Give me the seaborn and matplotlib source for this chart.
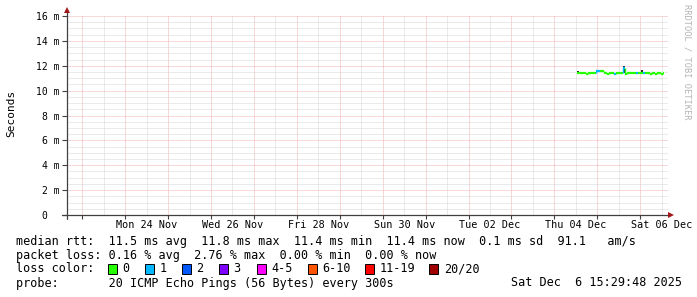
import matplotlib
matplotlib.use("Agg")
import matplotlib.pyplot as plt
import matplotlib.dates as mdates
from matplotlib.ticker import MultipleLocator, FuncFormatter
from matplotlib.patches import Rectangle
import seaborn as sns
import pandas as pd

sns.set_theme(style="white")
plt.rcParams['font.family'] = ['DejaVu Sans Mono', 'DejaVu Sans']

# ---------------- data ----------------
t_start = pd.Timestamp("2025-11-22 15:29:48")
t_end = pd.Timestamp("2025-12-06 15:29:48")
data_start = pd.Timestamp("2025-12-04 12:30")

median_ms = [11.45, 11.45, 11.45, 11.45, 11.45, 11.33, 11.45, 11.45, 11.45, 11.45,
             11.45, 11.55, 11.55, 11.55, 11.55, 11.45, 11.45, 11.35, 11.45, 11.45,
             11.45, 11.35, 11.45, 11.45, 11.45, 11.45, 11.80, 11.35, 11.45, 11.45,
             11.45, 11.45, 11.45, 11.45, 11.45, 11.45, 11.45, 11.45, 11.45, 11.45,
             11.45, 11.35, 11.45, 11.45, 11.35, 11.45, 11.45, 11.35, 11.45]
loss_cnt = [0, 0, 0, 0, 0, 0, 0, 0, 0, 0,
            0, 1, 1, 0, 0, 0, 0, 0, 0, 0,
            0, 1, 0, 0, 0, 0, 1, 0, 0, 0,
            0, 0, 0, 1, 0, 0, 0, 1, 0, 0,
            0, 0, 0, 0, 0, 0, 0, 0, 0]
smoke_lo = [11.40, 11.41, 11.41, 11.41, 11.41, 11.29, 11.41, 11.41, 11.41, 11.41,
            11.41, 11.51, 11.51, 11.51, 11.51, 11.41, 11.41, 11.31, 11.41, 11.41,
            11.41, 11.31, 11.41, 11.41, 11.41, 11.41, 11.40, 11.31, 11.41, 11.41,
            11.41, 11.41, 11.41, 11.41, 11.41, 11.41, 11.41, 11.41, 11.41, 11.41,
            11.41, 11.31, 11.41, 11.41, 11.31, 11.41, 11.41, 11.31, 11.41]
smoke_hi = [11.60, 11.49, 11.49, 11.49, 11.49, 11.37, 11.49, 11.49, 11.49, 11.49,
            11.49, 11.59, 11.59, 11.59, 11.59, 11.49, 11.49, 11.39, 11.49, 11.49,
            11.49, 11.39, 11.49, 11.49, 11.49, 11.49, 11.95, 11.39, 11.49, 11.49,
            11.49, 11.49, 11.49, 11.49, 11.49, 11.49, 11.62, 11.49, 11.49, 11.49,
            11.49, 11.39, 11.49, 11.49, 11.39, 11.49, 11.49, 11.39, 11.49]

loss_labels = ["0", "1", "2", "3", "4-5", "6-10", "11-19", "20/20"]
loss_colors = ["#26ff00", "#00b8ff", "#0059ff", "#7e00ff", "#ff00ff",
               "#ff5500", "#ff0000", "#a10000"]

y_ticks = [0, 2, 4, 6, 8, 10, 12, 14, 16]
y_ticklabels = ["0  ", "2 m", "4 m", "6 m", "8 m", "10 m", "12 m", "14 m", "16 m"]

stats_lines = [
    "median rtt:  11.5 ms avg  11.8 ms max  11.4 ms min  11.4 ms now  0.1 ms sd  91.1   am/s",
    "packet loss: 0.16 % avg  2.76 % max  0.00 % min  0.00 % now",
]
probe_text = "probe:       20 ICMP Echo Pings (56 Bytes) every 300s"
stamp_text = "Sat Dec  6 15:29:48 2025"

# ---------------- figure ----------------
W, H = 697, 297
fig = plt.figure(figsize=(W / 100, H / 100), dpi=100)
fig.patch.set_facecolor("white")
ax = fig.add_axes([67 / W, 82 / H, 601 / W, 199 / H])
ax.set_facecolor("white")

times = pd.date_range(data_start, periods=len(median_ms), freq="h")
edges = pd.date_range(data_start, periods=len(median_ms) + 1, freq="h")
df = pd.DataFrame({"time": times, "median": median_ms, "loss": loss_cnt,
                   "lo": smoke_lo, "hi": smoke_hi})

def loss_color(n):
    if n <= 3:
        return loss_colors[n]
    if n <= 5:
        return loss_colors[4]
    if n <= 10:
        return loss_colors[5]
    if n <= 19:
        return loss_colors[6]
    return loss_colors[7]

# smoke
ax.fill_between(edges, list(df["lo"]) + [df["lo"].iloc[-1]],
                list(df["hi"]) + [df["hi"].iloc[-1]], step="post",
                color="#2a2a2a", lw=0, zorder=3)

# median line coloured by loss
one_h = pd.Timedelta(hours=1)
for i, row in df.iterrows():
    c = loss_color(int(row["loss"]))
    ax.hlines(row["median"], row["time"], row["time"] + one_h, colors=c,
              lw=1.6, zorder=4)
    if i > 0:
        prev = df["median"].iloc[i - 1]
        if prev != row["median"]:
            ax.vlines(row["time"], prev, row["median"], colors=c, lw=1.0, zorder=4)

# axes limits / ticks
ax.set_xlim(t_start, t_end)
ax.set_ylim(0, 16)
ax.set_yticks(y_ticks)
ax.set_yticklabels(y_ticklabels)
ax.yaxis.set_minor_locator(MultipleLocator(0.5))

ax.xaxis.set_major_locator(mdates.DayLocator())
ax.xaxis.set_major_formatter(FuncFormatter(lambda v, p: ""))
ax.xaxis.set_minor_locator(mdates.HourLocator(byhour=[12]))
ref_day = pd.Timestamp("2025-11-24")

def minor_fmt(v, p):
    d = pd.Timestamp(mdates.num2date(v).replace(tzinfo=None))
    if (d.normalize() - ref_day).days % 2 == 0 and d >= ref_day:
        return d.strftime("%a %d %b")
    return ""

ax.xaxis.set_minor_formatter(FuncFormatter(minor_fmt))

for s in ax.spines.values():
    s.set_visible(False)

ax.tick_params(axis="x", which="major", direction="out", length=3, width=0.8,
               color="#404040", bottom=True, labelbottom=False)
ax.tick_params(axis="x", which="minor", length=0, pad=3.5, labelsize=7.3,
               labelcolor="black", bottom=True)
ax.tick_params(axis="y", which="major", direction="out", length=3.5, width=0.8,
               color="#404040", left=True, pad=2, labelsize=7.0, labelcolor="black")
ax.tick_params(axis="y", which="minor", length=0, left=False)

ax.grid(True, which="minor", axis="both", color="#d6d6d6", lw=0.72,
        linestyle=(0, (1, 1)), zorder=1)
ax.grid(True, which="major", axis="both", color="#f0b0b0", lw=0.72,
        linestyle=(0, (1, 1)), zorder=2)
ax.set_axisbelow(True)

# axis lines with arrows
axis_col = "#404040"
ax.plot([0, 0], [-4 / 199, 1 + 6 / 199], color=axis_col, lw=0.9,
        transform=ax.transAxes, clip_on=False, zorder=5)
ax.plot([-5 / 601, 1 + 2 / 601], [0, 0], color=axis_col, lw=0.9,
        transform=ax.transAxes, clip_on=False, zorder=5)
ax.plot([0], [1 + 6 / 199], marker="^", ms=4, color="#a01818", mew=0,
        transform=ax.transAxes, clip_on=False, zorder=6)
ax.plot([1 + 3 / 601], [0], marker=">", ms=4, color="#a01818", mew=0,
        transform=ax.transAxes, clip_on=False, zorder=6)

# y label
fig.text(11 / W, 1 - 113 / H, "Seconds", rotation=90, ha="center", va="center",
         fontsize=8, color="black")
# watermark
fig.text(687 / W, 1 - 4 / H, "RRDTOOL / TOBI OETIKER", rotation=270,
         ha="center", va="top", fontsize=6.2, color="#b4b4b4")

# legend text
row_y = [241, 255, 269, 283]
fig.text(16 / W, 1 - row_y[0] / H, stats_lines[0], ha="left", va="center",
         fontsize=8.5, color="black")
fig.text(16 / W, 1 - row_y[1] / H, stats_lines[1], ha="left", va="center",
         fontsize=8.5, color="black")
fig.text(16 / W, 1 - row_y[2] / H, "loss color:", ha="left", va="center",
         fontsize=8.5, color="black")
sq_x = [108, 145, 182, 219, 257, 308, 365, 429]
lab_x = [122, 160, 196, 233, 271, 322, 380, 444]
for sx, lx, lab, col in zip(sq_x, lab_x, loss_labels, loss_colors):
    fig.add_artist(Rectangle((sx / W, 1 - (row_y[2] + 5) / H), 9 / W, 10 / H,
                             transform=fig.transFigure, facecolor=col,
                             edgecolor="black", lw=0.7))
    fig.text(lx / W, 1 - row_y[2] / H, lab, ha="left", va="center",
             fontsize=8.5, color="black")
fig.text(16 / W, 1 - row_y[3] / H, probe_text, ha="left", va="center",
         fontsize=8.5, color="black")
fig.text(682 / W, 1 - row_y[3] / H, stamp_text, ha="right", va="center",
         fontsize=8.5, color="black")

fig.savefig("out.png", dpi=100, facecolor="white")
